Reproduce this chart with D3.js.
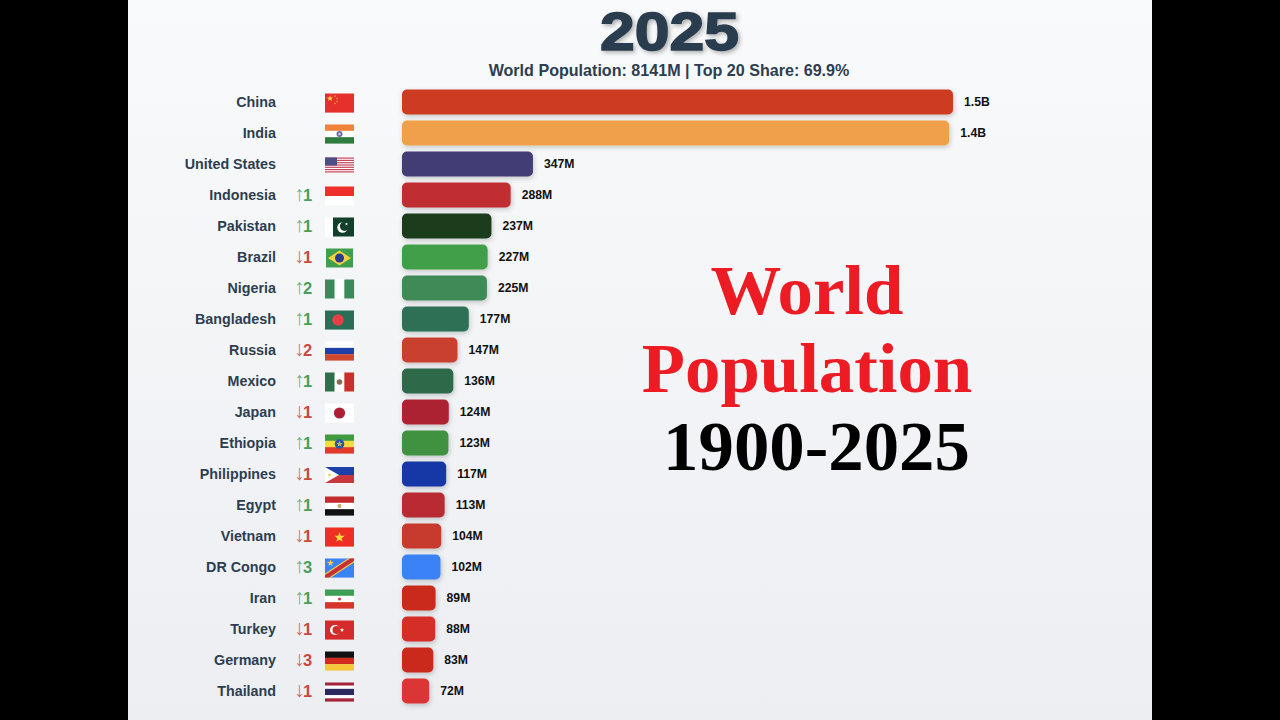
<!DOCTYPE html>
<html>
<head>
<meta charset="utf-8">
<script src="https://cdn.jsdelivr.net/npm/d3@7"></script>
<style>
  html, body { margin: 0; padding: 0; background: #000; }
  svg { display: block; }
  text { font-family: "Liberation Sans", Arial, sans-serif; }
</style>
</head>
<body>
<svg id="chart" width="1280" height="720"></svg>
<script>
var countries = ["China","India","United States","Indonesia","Pakistan","Brazil","Nigeria","Bangladesh","Russia","Mexico","Japan","Ethiopia","Philippines","Egypt","Vietnam","DR Congo","Iran","Turkey","Germany","Thailand"];
var populations = [1460,1450,347,288,237,227,225,177,147,136,124,123,117,113,104,102,89,88,83,72];
var valueLabels = ["1.5B","1.4B","347M","288M","237M","227M","225M","177M","147M","136M","124M","123M","117M","113M","104M","102M","89M","88M","83M","72M"];
var rankChanges = [0,0,0,1,1,-1,2,1,-2,1,-1,1,-1,1,-1,3,1,-1,-3,-1];
var barColors = ["#cc3b22","#f0a04b","#433d74","#c02e31","#1a3d1f","#439f49","#3f8a57","#2f6f55","#c9402f","#2d6b4a","#ad2433","#3f9140","#1539a6","#b92c33","#c73b2f","#3b82f6","#c9291c","#d52f28","#c92a1c","#db3535"];

var svg = d3.select("#chart");
var defs = svg.append("defs");

var bg = defs.append("linearGradient").attr("id", "bg").attr("x1", 0).attr("y1", 0).attr("x2", 0).attr("y2", 1);
bg.append("stop").attr("offset", "0%").attr("stop-color", "#f9fafb");
bg.append("stop").attr("offset", "100%").attr("stop-color", "#eceef2");

var barShadow = defs.append("filter").attr("id", "barShadow").attr("x", "-10%").attr("y", "-30%").attr("width", "125%").attr("height", "170%");
barShadow.append("feDropShadow").attr("dx", 1).attr("dy", 2).attr("stdDeviation", 2.5).attr("flood-color", "#000").attr("flood-opacity", 0.2);

var titleShadow = defs.append("filter").attr("id", "titleShadow").attr("x", "-10%").attr("y", "-20%").attr("width", "125%").attr("height", "150%");
titleShadow.append("feDropShadow").attr("dx", 2).attr("dy", 2).attr("stdDeviation", 2).attr("flood-color", "#000").attr("flood-opacity", 0.3);

svg.append("rect").attr("x", 128).attr("y", 0).attr("width", 1024).attr("height", 720).attr("fill", "url(#bg)");

var x = d3.scaleLinear().domain([0, 1460]).range([402, 953]);
var y = d3.scaleBand().domain(countries).range([86.5, 706.5]).paddingInner(0.2).paddingOuter(0.1);

// header
svg.append("text").attr("x", 669.5).attr("y", 50).attr("text-anchor", "middle")
  .attr("font-size", 53).attr("font-weight", "bold").attr("fill", "#2c3e50")
  .attr("stroke", "#2c3e50").attr("stroke-width", 1.6)
  .attr("textLength", 139).attr("lengthAdjust", "spacingAndGlyphs")
  .attr("filter", "url(#titleShadow)").text("2025");
svg.append("text").attr("x", 669).attr("y", 76).attr("text-anchor", "middle")
  .attr("font-size", 16.1).attr("font-weight", "bold").attr("fill", "#2c3e50")
  .text("World Population: 8141M | Top 20 Share: 69.9%");

// bars
svg.selectAll(".bar").data(countries).enter().append("rect")
  .attr("class", "bar")
  .attr("x", x(0))
  .attr("y", function(d) { return y(d); })
  .attr("width", function(d, i) { return x(populations[i]) - x(0); })
  .attr("height", y.bandwidth())
  .attr("rx", 5)
  .attr("fill", function(d, i) { return barColors[i]; })
  .attr("filter", "url(#barShadow)");

// country names
svg.selectAll(".name").data(countries).enter().append("text")
  .attr("class", "name")
  .attr("x", 276)
  .attr("y", function(d) { return y(d) + y.bandwidth() / 2; })
  .attr("dy", "0.35em")
  .attr("text-anchor", "end")
  .attr("font-size", 14.3).attr("font-weight", "bold").attr("fill", "#2c3e50")
  .text(function(d) { return d; });

// value labels
svg.selectAll(".value").data(countries).enter().append("text")
  .attr("class", "value")
  .attr("x", function(d, i) { return x(populations[i]) + 11; })
  .attr("y", function(d) { return y(d) + y.bandwidth() / 2; })
  .attr("dy", "0.35em")
  .attr("font-size", 12.2).attr("font-weight", "bold").attr("fill", "#111")
  .text(function(d, i) { return valueLabels[i]; });

// rank change, thin arrow then bold digit
var rank = svg.selectAll(".rank").data(countries).enter().append("text")
  .attr("class", "rank")
  .attr("x", 294)
  .attr("y", function(d) { return y(d) + y.bandwidth() / 2; })
  .attr("dy", "0.35em")
  .attr("fill", function(d, i) { return rankChanges[i] > 0 ? "#4a9e5c" : "#c9483f"; });
rank.append("tspan").attr("font-size", 21).attr("font-weight", "normal").attr("fill-opacity", 0.8)
  .text(function(d, i) { return rankChanges[i] === 0 ? "" : (rankChanges[i] > 0 ? "\u2191" : "\u2193"); });
rank.append("tspan").attr("dx", -1.5).attr("font-size", 16.5).attr("font-weight", "bold")
  .text(function(d, i) { return rankChanges[i] === 0 ? "" : Math.abs(rankChanges[i]); });

// flags, each one drawn in a 29x19 box
function stripes(g, cols) {
  cols.forEach(function(c, i) {
    g.append("rect").attr("x", 0).attr("y", i * 19 / cols.length).attr("width", 29).attr("height", 19 / cols.length + 0.1).attr("fill", c);
  });
}
function vstripes(g, cols) {
  cols.forEach(function(c, i) {
    g.append("rect").attr("x", i * 29 / cols.length).attr("y", 0).attr("width", 29 / cols.length + 0.1).attr("height", 19).attr("fill", c);
  });
}
function star(g, cx, cy, r, fill) {
  var pts = d3.range(10).map(function(i) {
    var a = -Math.PI / 2 + i * Math.PI / 5, q = i % 2 ? r * 0.42 : r;
    return [cx + q * Math.cos(a), cy + q * Math.sin(a)].join(",");
  }).join(" ");
  g.append("polygon").attr("points", pts).attr("fill", fill);
}
function circle(g, cx, cy, r, fill) {
  g.append("circle").attr("cx", cx).attr("cy", cy).attr("r", r).attr("fill", fill);
}
var flags = {
  "China": function(g) {
    stripes(g, ["#e5302b"]);
    star(g, 5, 5, 3.2, "#f7d64a");
    [[10, 2.5], [12, 5], [12, 8], [10, 10]].forEach(function(p) { star(g, p[0], p[1], 1, "#f7d64a"); });
  },
  "India": function(g) {
    stripes(g, ["#f0823c", "#fff", "#2f7d3e"]);
    circle(g, 14.5, 9.5, 3, "#6a6aa8");
    circle(g, 14.5, 9.5, 1.2, "#d8d8ea");
  },
  "United States": function(g) {
    g.append("rect").attr("y", 2).attr("width", 29).attr("height", 15).attr("fill", "#fff");
    d3.range(7).forEach(function(i) {
      g.append("rect").attr("y", 2 + i * 2.3).attr("width", 29).attr("height", 1.2).attr("fill", "#c4475a");
    });
    g.append("rect").attr("y", 2).attr("width", 12).attr("height", 8).attr("fill", "#4a4f85");
  },
  "Indonesia": function(g) { stripes(g, ["#ee2f2b", "#fff"]); },
  "Pakistan": function(g) {
    g.append("rect").attr("x", 0).attr("width", 8).attr("height", 19).attr("fill", "#fff");
    g.append("rect").attr("x", 8).attr("width", 21).attr("height", 19).attr("fill", "#12402a");
    circle(g, 17.5, 10, 5.2, "#fff");
    circle(g, 19.5, 8.8, 4.6, "#12402a");
    star(g, 21.5, 6.5, 1.6, "#fff");
  },
  "Brazil": function(g) {
    g.append("rect").attr("x", 1).attr("width", 27).attr("height", 19).attr("fill", "#3f9f4e");
    g.append("polygon").attr("points", "3,9.5 14.5,2 26,9.5 14.5,17").attr("fill", "#f2d13c");
    circle(g, 14.5, 9.5, 4.5, "#2b3a8c");
  },
  "Nigeria": function(g) { vstripes(g, ["#3c8a5a", "#fff", "#3c8a5a"]); },
  "Bangladesh": function(g) {
    stripes(g, ["#2a6f55"]);
    circle(g, 13, 9.5, 5.8, "#e4404a");
  },
  "Russia": function(g) { stripes(g, ["#fff", "#1f3fa8", "#d0492f"]); },
  "Mexico": function(g) {
    vstripes(g, ["#2f6f4c", "#fff", "#c9302c"]);
    circle(g, 14.5, 9.5, 2.8, "#8a6a50");
  },
  "Japan": function(g) {
    stripes(g, ["#fff"]);
    circle(g, 14.5, 9.5, 5.6, "#ad1f33");
  },
  "Ethiopia": function(g) {
    stripes(g, ["#409a40", "#f2dd3c", "#e23a2a"]);
    circle(g, 14.5, 9.5, 4.8, "#2f57a8");
    star(g, 14.5, 9.5, 3, "#c8c060");
  },
  "Philippines": function(g) {
    g.append("rect").attr("y", 1.5).attr("width", 29).attr("height", 8).attr("fill", "#1c3fa8");
    g.append("rect").attr("y", 9.5).attr("width", 29).attr("height", 8).attr("fill", "#c9363c");
    g.append("polygon").attr("points", "0,1.5 14,9.5 0,17.5").attr("fill", "#fff");
    star(g, 4.5, 9.5, 2.2, "#f0c83c");
  },
  "Egypt": function(g) {
    stripes(g, ["#c42a2e", "#fff", "#111"]);
    circle(g, 14.5, 9.5, 2, "#c8a860");
  },
  "Vietnam": function(g) {
    stripes(g, ["#ee2f23"]);
    star(g, 14.5, 10, 5.4, "#fbd83c");
  },
  "DR Congo": function(g) {
    stripes(g, ["#3b82f6"]);
    g.append("polygon").attr("points", "0,19 0,15 23,0 29,0 29,4 6,19").attr("fill", "#f0d040");
    g.append("polygon").attr("points", "0,19 0,16.5 25,0 29,0 29,2.5 4,19").attr("fill", "#c62f3a");
    star(g, 5.5, 4.5, 3.6, "#f0d040");
  },
  "Iran": function(g) {
    stripes(g, ["#3f9f55", "#fff", "#d6352c"]);
    circle(g, 14.5, 9.5, 1.6, "#c9483f");
  },
  "Turkey": function(g) {
    stripes(g, ["#d62b2b"]);
    circle(g, 10, 9.5, 5, "#fff");
    circle(g, 11.5, 9.5, 4, "#d62b2b");
    star(g, 17, 9.5, 2.2, "#fff");
  },
  "Germany": function(g) { stripes(g, ["#111", "#d32b1e", "#f5c83c"]); },
  "Thailand": function(g) { stripes(g, ["#a5243a", "#fff", "#2a2a5e", "#2a2a5e", "#fff", "#a5243a"]); }
};
svg.selectAll(".flag").data(countries).enter().append("g")
  .attr("class", "flag")
  .attr("transform", function(d) { return "translate(325," + (y(d) + y.bandwidth() / 2 - 8.5) + ")"; })
  .each(function(d) { flags[d](d3.select(this)); });

// big overlay title
var overlay = [
  { t: "World", x: 807, y: 314, c: "#ed1c24" },
  { t: "Population", x: 807, y: 392, c: "#ed1c24" },
  { t: "1900-2025", x: 816.5, y: 470, c: "#000" }
];
svg.selectAll(".overlay").data(overlay).enter().append("text")
  .attr("class", "overlay")
  .attr("x", function(d) { return d.x; })
  .attr("y", function(d) { return d.y; })
  .attr("text-anchor", "middle")
  .attr("font-size", 70.8).attr("font-weight", "bold")
  .style("font-family", "'Liberation Serif', serif")
  .attr("fill", function(d) { return d.c; })
  .text(function(d) { return d.t; });
</script>
</body>
</html>
